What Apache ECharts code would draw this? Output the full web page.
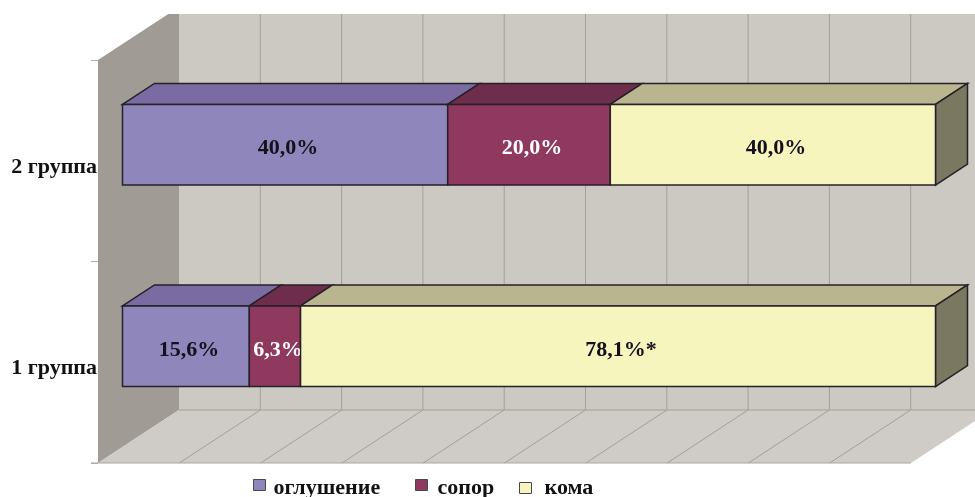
<!DOCTYPE html>
<html>
<head>
<meta charset="utf-8">
<script src="https://cdn.jsdelivr.net/npm/echarts@6/dist/echarts.min.js"></script>
<style>html,body{margin:0;padding:0;background:#fff}#c{width:975px;height:497px}</style>
</head>
<body>
<div id="c"></div>
<script>
const categories = ['1 группа', '2 группа'];
const oglushenie = [15.6, 40.0];
const sopor = [6.3, 20.0];
const koma = [78.1, 40.0];
const komaMarks = ['*', ''];
const xTicks = [0, 10, 20, 30, 40, 50, 60, 70, 80, 90, 100];

const FONT = "'Liberation Serif', serif";
const ROOM_DX = 81, ROOM_DY = -53;      // full depth of the 3D room
const BAR_DX = 24.5, BAR_DY = -16;      // front of the bars inside the room
const BAR_DEPTH_DX = 32, BAR_DEPTH_DY = -21;
const BAR_RATIO = 0.4;
const OUTLINE = '#262029';

function fmt(v) { return v.toFixed(1).replace('.', ',') + '%'; }

function rows(values, previous, marks) {
  return values.map((v, i) => {
    const start = previous.reduce((s, a) => s + a[i], 0);
    return [start, start + v, i, fmt(v) + (marks ? marks[i] : '')];
  });
}

function poly(points, fill, stroke, lw) {
  return { type: 'polygon', shape: { points }, style: { fill, stroke: stroke || null, lineWidth: lw || 0 } };
}
function line(a, b, color) {
  return { type: 'line', shape: { x1: a[0], y1: a[1], x2: b[0], y2: b[1] }, style: { stroke: color, lineWidth: 1 } };
}

function renderRoom(params, api) {
  const r = params.coordSys;
  const L = r.x, T = r.y, B = r.y + r.height;
  const grid = '#a3a099';
  const ch = [];
  const right = api.coord([100, 0])[0];
  ch.push(poly([[L + ROOM_DX, T + ROOM_DY], [right + ROOM_DX, T + ROOM_DY], [right + ROOM_DX, B + ROOM_DY], [L + ROOM_DX, B + ROOM_DY]], '#ccc8c2'));
  ch.push(poly([[L, T], [L + ROOM_DX, T + ROOM_DY], [L + ROOM_DX, B + ROOM_DY], [L, B]], '#a09c95'));
  ch.push(poly([[L, B], [L + ROOM_DX, B + ROOM_DY], [right + ROOM_DX, B + ROOM_DY], [right, B]], '#cfcbc6'));
  xTicks.forEach((t, i) => {
    const x = api.coord([t, 0])[0];
    if (i > 0) ch.push(line([x + ROOM_DX, T + ROOM_DY], [x + ROOM_DX, B + ROOM_DY], grid));
    if (i > 0 && i < xTicks.length - 1) ch.push(line([x, B], [x + ROOM_DX, B + ROOM_DY], grid));
  });
  ch.push(line([L + ROOM_DX, B + ROOM_DY], [right + ROOM_DX, B + ROOM_DY], grid));
  ch.push(line([L - 7, B], [right, B], '#aaa6a0'));
  // the picture is cropped along the top edge
  ch.push({ type: 'rect', shape: { x: 0, y: 0, width: api.getWidth(), height: 14 }, style: { fill: '#fff' } });
  return { type: 'group', children: ch };
}

function barRenderer(front, top, side, labelColor) {
  return function (params, api) {
    const s = api.coord([api.value(0), api.value(2)]);
    const e = api.coord([api.value(1), api.value(2)]);
    const h = api.size([0, 1])[1] * BAR_RATIO;
    const x1 = s[0] + BAR_DX, x2 = e[0] + BAR_DX;
    const yT = s[1] + BAR_DY - h / 2, yB = s[1] + BAR_DY + h / 2;
    const ch = [];
    ch.push(poly([[x1, yT], [x1 + BAR_DEPTH_DX, yT + BAR_DEPTH_DY], [x2 + BAR_DEPTH_DX, yT + BAR_DEPTH_DY], [x2, yT]], top, OUTLINE, 1.5));
    if (api.value(1) > 99.9) {
      ch.push(poly([[x2, yT], [x2 + BAR_DEPTH_DX, yT + BAR_DEPTH_DY], [x2 + BAR_DEPTH_DX, yB + BAR_DEPTH_DY], [x2, yB]], side, OUTLINE, 1.5));
    }
    ch.push(poly([[x1, yT], [x2, yT], [x2, yB], [x1, yB]], front, OUTLINE, 1.5));
    ch.push({
      type: 'text',
      style: {
        text: api.value(3), x: (x1 + x2) / 2 + 3, y: (yT + yB) / 2 + 4,
        fill: labelColor, font: 'bold 22px ' + FONT, align: 'center', verticalAlign: 'middle'
      }
    });
    return { type: 'group', children: ch };
  };
}

function barSeries(name, data, front, top, side, labelColor) {
  return {
    name, type: 'custom', data, coordinateSystem: 'cartesian2d',
    encode: { x: [0, 1], y: 2 },
    dimensions: ['start', 'end', 'cat', { name: 'label', type: 'ordinal' }],
    itemStyle: { color: front },
    renderItem: barRenderer(front, top, side, labelColor),
    z: 3
  };
}

function legendAt(name, left, top, color, icon, h, textGap) {
  return {
    data: [name], left, top, itemWidth: 12, itemHeight: h, padding: 0,
    icon, itemStyle: { color, borderColor: '#4a4550', borderWidth: 1 },
    textStyle: { fontFamily: FONT, fontWeight: 'bold', fontSize: 22, color: '#111', padding: [0, 0, 0, textGap] }
  };
}
// square sitting in the upper part of a taller icon box, as in the reference legend
const RAISED_SQUARE = 'path://M0,0h12v11h-12z M0,17h0.01';

const chart = echarts.init(document.getElementById('c'), null, { renderer: 'canvas' });
chart.setOption({
  animation: false,
  backgroundColor: '#fff',
  grid: { left: 98, right: 64, top: 60, bottom: 34, containLabel: false },
  xAxis: {
    type: 'value', min: 0, max: 100, interval: 10,
    axisLabel: { show: false }, axisLine: { show: false }, axisTick: { show: false }, splitLine: { show: false }
  },
  yAxis: {
    type: 'category', data: categories,
    axisLine: { show: false },
    axisTick: { show: true, length: 7, lineStyle: { color: '#b5b1ab' } },
    axisLabel: { margin: 1, fontFamily: FONT, fontWeight: 'bold', fontSize: 22, color: '#111', verticalAlign: 'top', lineHeight: 13 },
    splitLine: { show: false }
  },
  legend: [
    legendAt('оглушение', 253, 477, '#8f87bb', RAISED_SQUARE, 17, 3),
    legendAt('сопор', 415, 477, '#90395f', RAISED_SQUARE, 17, 5),
    legendAt('кома', 519, 477, '#f7f5be', 'rect', 11, 8)
  ],
  series: [
    { type: 'custom', name: 'room', data: [[0, 0]], renderItem: renderRoom, z: 1, silent: true },
    barSeries('оглушение', rows(oglushenie, []), '#8f87bb', '#7a6ca3', '#6c6490', '#14101c'),
    barSeries('сопор', rows(sopor, [oglushenie]), '#90395f', '#6e2e4b', '#5c2a40', '#ffffff'),
    barSeries('кома', rows(koma, [oglushenie, sopor], komaMarks), '#f7f5be', '#b9b58e', '#7a7860', '#14101c')
  ]
});
</script>
</body>
</html>
